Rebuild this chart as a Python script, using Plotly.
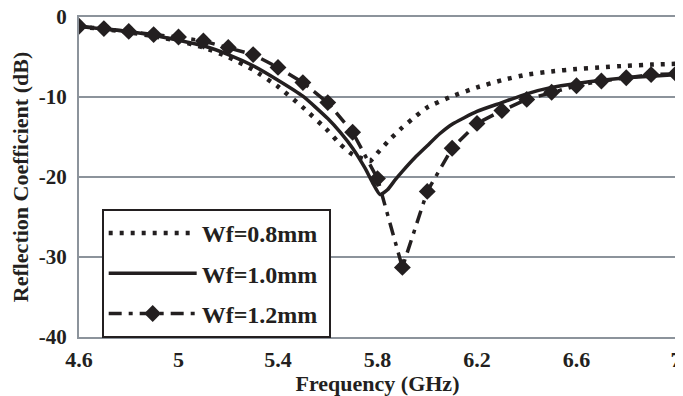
import plotly.graph_objects as go

# Wf = 0.8 mm (dotted)
f08 = [4.6, 4.7, 4.8, 4.9, 5.0, 5.1, 5.2, 5.3, 5.4, 5.5, 5.6, 5.65, 5.7, 5.74, 5.77,
       5.8, 5.85, 5.9, 5.95, 6.0, 6.1, 6.2, 6.3, 6.4, 6.5, 6.6, 6.7, 6.8, 6.9, 7.0]
s08 = [-1.2, -1.5, -1.9, -2.4, -3.0, -3.8, -5.0, -6.6, -8.7, -11.3, -14.2, -15.9, -17.2, -17.7, -18.0,
       -17.0, -15.3, -13.8, -12.5, -11.3, -9.9, -8.8, -7.9, -7.2, -6.8, -6.5, -6.3, -6.1, -5.95, -5.85]

# Wf = 1.0 mm (solid)
f10 = [4.6, 4.7, 4.8, 4.9, 5.0, 5.1, 5.2, 5.3, 5.4, 5.5, 5.6, 5.65, 5.7, 5.75, 5.78,
       5.81, 5.84, 5.87, 5.9, 5.95, 6.0, 6.05, 6.1, 6.2, 6.3, 6.4, 6.5, 6.6, 6.7, 6.8, 6.9, 7.0]
s10 = [-1.2, -1.5, -1.8, -2.3, -2.9, -3.6, -4.7, -6.1, -7.9, -9.9, -12.7, -14.4, -16.4, -18.9, -20.7,
       -22.2, -21.6, -20.4, -19.3, -17.6, -16.1, -14.6, -13.4, -11.8, -10.7, -9.6, -8.8, -8.3, -7.9, -7.6, -7.4, -7.2]

# Wf = 1.2 mm (dash-dot with diamonds)
f12 = [4.6, 4.7, 4.8, 4.9, 5.0, 5.1, 5.2, 5.3, 5.4, 5.5, 5.6, 5.7, 5.8,
       5.9, 6.0, 6.1, 6.2, 6.3, 6.4, 6.5, 6.6, 6.7, 6.8, 6.9, 7.0]
s12 = [-1.15, -1.45, -1.8, -2.2, -2.5, -3.0, -3.8, -4.7, -6.3, -8.2, -10.7, -14.4, -20.2,
       -31.3, -21.8, -16.4, -13.3, -11.7, -10.3, -9.4, -8.6, -8.0, -7.6, -7.2, -7.1]

x_ticks = [4.6, 5.0, 5.4, 5.8, 6.2, 6.6, 7.0]
x_tick_text = ["4.6", "5", "5.4", "5.8", "6.2", "6.6", "7"]
y_ticks = [0, -10, -20, -30, -40]
y_tick_text = ["0", "-10", "-20", "-30", "-40"]

FONT = "Liberation Serif"
GRID = "#8c939b"
INK = "#231f20"

fig = go.Figure()
fig.add_trace(go.Scatter(
    x=f08, y=s08, mode="lines", name="Wf=0.8mm\u00a0", legendgroup="a",
    line=dict(color=INK, width=4.5, dash="4px,7px", shape="spline", smoothing=0.5),
))
fig.add_trace(go.Scatter(
    x=f10, y=s10, mode="lines", name="Wf=1.0mm\u00a0", legendgroup="b",
    line=dict(color=INK, width=3.5, shape="spline", smoothing=0.5),
))
fig.add_trace(go.Scatter(
    x=f12, y=s12, mode="lines+markers", name="Wf=1.2mm\u00a0", legendgroup="c",
    line=dict(color=INK, width=3.5, dash="13px,7px,4px,7px"),
    marker=dict(symbol="diamond", size=13, color=INK),
))

# page body adds an 8px offset, so the figure is sized to fit the 683x396 window
fig.update_layout(
    width=675, height=388,
    margin=dict(l=71, r=7, t=9, b=59, autoexpand=False),
    paper_bgcolor="white", plot_bgcolor="white",
    font=dict(family=FONT, color=INK, size=21, weight="bold"),
    showlegend=True,
    legend=dict(
        x=0.038, y=-0.003, xanchor="left", yanchor="bottom",
        bgcolor="white", bordercolor=INK, borderwidth=2,
        font=dict(family=FONT, size=24, weight="bold", color=INK),
        itemwidth=88, tracegroupgap=6,
    ),
)
fig.update_xaxes(
    range=[4.6, 7.0], tickvals=x_ticks, ticktext=x_tick_text,
    showgrid=False, zeroline=False, automargin=False,
    showline=True, mirror=True, linecolor=GRID, linewidth=2,
    ticks="", ticklabelstandoff=2, ticklabeloverflow="allow",
    tickfont=dict(family=FONT, size=22, weight="bold"),
    title=dict(text="Frequency (GHz)", font=dict(family=FONT, size=22, weight="bold"), standoff=0),
)
fig.update_yaxes(
    range=[-40, 0], tickvals=y_ticks, ticktext=y_tick_text,
    showgrid=True, gridcolor=GRID, gridwidth=2, zeroline=False, automargin=False,
    showline=True, linecolor=GRID, linewidth=2,
    ticks="", ticklabelstandoff=6, ticklabeloverflow="allow",
    tickfont=dict(family=FONT, size=21, weight="bold"),
    title=dict(text="Reflection Coefficient (dB)", font=dict(family=FONT, size=22, weight="bold"), standoff=8),
)

fig.write_html("out.html")
